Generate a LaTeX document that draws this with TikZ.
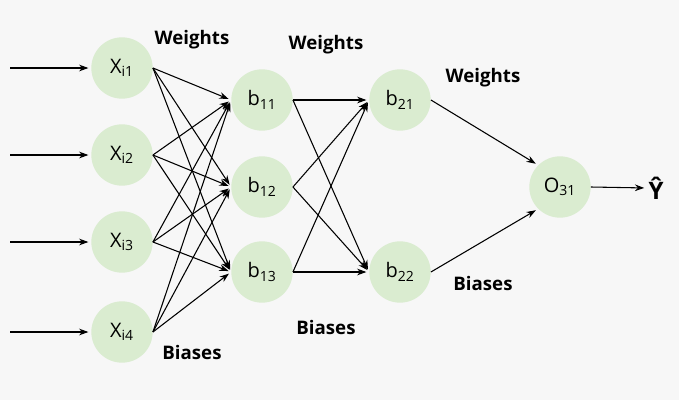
\documentclass[tikz,border=0pt]{standalone}
\usepackage{fontspec}
\setmainfont{Open Sans}
\usetikzlibrary{arrows.meta}
\newcommand{\sbx}[1]{\textsubscript{#1}}
\begin{document}
\begin{tikzpicture}[x=0.75pt,y=-0.75pt,
  neu/.style={circle,fill=nfill,minimum size=46pt,inner sep=0pt,font=\fontsize{15}{17}\selectfont},
  con/.style={-{Stealth[length=7pt,width=5pt]},line width=0.8pt,shorten >=2pt},
  lab/.style={font=\bfseries\fontsize{14}{16}\selectfont}]
\definecolor{nfill}{RGB}{218,236,208}
\fill[white!97!black] (0,0) rectangle (679,400);
\node[neu] (x1) at (122,68) {X\sbx{i1}};
\node[neu] (x2) at (122,155) {X\sbx{i2}};
\node[neu] (x3) at (122,242) {X\sbx{i3}};
\node[neu] (x4) at (122,332) {X\sbx{i4}};
\node[neu] (b11) at (262,100) {b\sbx{11}};
\node[neu] (b12) at (262,187) {b\sbx{12}};
\node[neu] (b13) at (262,272) {b\sbx{13}};
\node[neu] (b21) at (400,100) {b\sbx{21}};
\node[neu] (b22) at (400,272) {b\sbx{22}};
\node[neu] (o) at (560,187) {O\sbx{31}};
\node[font=\bfseries\fontsize{18}{20}\selectfont,inner sep=1pt] (y) at (656,188) {\^{Y}};
\foreach \i in {1,...,4}{
  \coordinate (in\i) at (10,0 |- x\i);
  \draw[con] (in\i) -- (x\i.west);
  \foreach \j in {11,12,13}{\draw[con] (x\i.east) -- (b\j.west);}
}
\foreach \j in {11,12,13}{\foreach \k in {21,22}{\draw[con] (b\j.east) -- (b\k.west);}}
\draw[con] (b21.east) -- (o.north west);
\draw[con] (b22.east) -- (o.south west);
\draw[con] (o.east) -- (y.west);
\node[lab] (w1) at (192,40) {Weights};
\node[lab] (w2) at (326,45) {Weights};
\node[lab] (w3) at (483,78) {Weights};
\node[lab] (bi1) at (192,352) {Biases};
\node[lab] (bi2) at (326,327) {Biases};
\node[lab] (bi3) at (483,283) {Biases};
\end{tikzpicture}
\end{document}
